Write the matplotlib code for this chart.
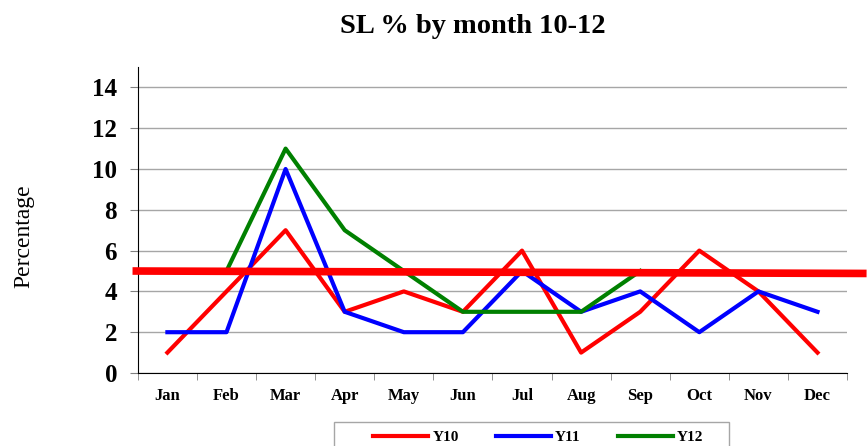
import numpy as np
import matplotlib
matplotlib.use("Agg")
import matplotlib.pyplot as plt
from matplotlib.patches import Rectangle

months = ["Jan", "Feb", "Mar", "Apr", "May", "Jun",
          "Jul", "Aug", "Sep", "Oct", "Nov", "Dec"]
y10 = [1, 4, 7, 3, 4, 3, 6, 1, 3, 6, 4, 1]
y11 = [2, 2, 10, 3, 2, 2, 5, 3, 4, 2, 4, 3]
y12 = [np.nan, 5, 11, 7, 5, 3, 3, 3, 5, np.nan, np.nan, np.nan]

# hand-drawn target line across the chart
target_x = [-0.59, 11.83]
target_y = [5.0, 4.88]

plt.rcParams['font.family'] = ['Liberation Serif', 'DejaVu Serif']

fig = plt.figure(figsize=(8.67, 4.46), dpi=100)
ax = fig.add_axes([0.159, 0.1637, 0.818, 0.686])

x = np.arange(len(months))
ax.plot(x, y10, color='#ff0000', lw=3, label='Y10')
ax.plot(x, y11, color='#0000ff', lw=3, label='Y11')
ax.plot(x, y12, color='#008000', lw=3, label='Y12')

ax.plot(target_x, target_y, color='#ff0000', lw=5.5, clip_on=False,
        solid_capstyle='butt', zorder=5)

ax.set_xlim(-0.5, 11.5)
ax.set_ylim(0, 15)
ax.set_yticks(range(0, 15, 2))
ax.set_xticks(x)
ax.set_xticklabels(months, fontsize=12, fontweight='bold')
ax.set_xticks(np.arange(-0.5, 12, 1), minor=True)
ax.tick_params(axis='x', which='major', length=0, pad=11)
ax.tick_params(axis='x', which='minor', length=5, color='#808080', direction='out')
ax.tick_params(axis='y', length=6, color='#808080', direction='out',
               labelsize=18, pad=9)
for lab in ax.get_yticklabels():
    lab.set_fontweight('bold')

ax.grid(axis='y', color='#a6a6a6', lw=1)
ax.set_axisbelow(True)
for s in ['top', 'right']:
    ax.spines[s].set_visible(False)
ax.spines['bottom'].set_color('black')
ax.spines['left'].set_color('black')

fig.text(24 / 867, 1 - 236 / 446, "Percentage", rotation=90, ha='center',
         va='center', fontsize=17)
fig.text(0.5455, 0.926, "SL % by month 10-12", ha='center', va='baseline',
         fontsize=20.5, fontweight='bold')

leg = fig.legend(loc='center left', bbox_to_anchor=(373 / 867, 1 - 437 / 446),
                 ncol=3, frameon=False, borderpad=0, borderaxespad=0,
                 prop={'weight': 'bold', 'size': 11}, handlelength=3.6,
                 handletextpad=0.3, columnspacing=2.4)
fig.patches.append(Rectangle((334 / 867, -0.05), 395 / 867, 24 / 446 + 0.05,
                             transform=fig.transFigure, fill=False,
                             edgecolor='#a6a6a6', lw=1))

fig.savefig("out.png", dpi=100)
